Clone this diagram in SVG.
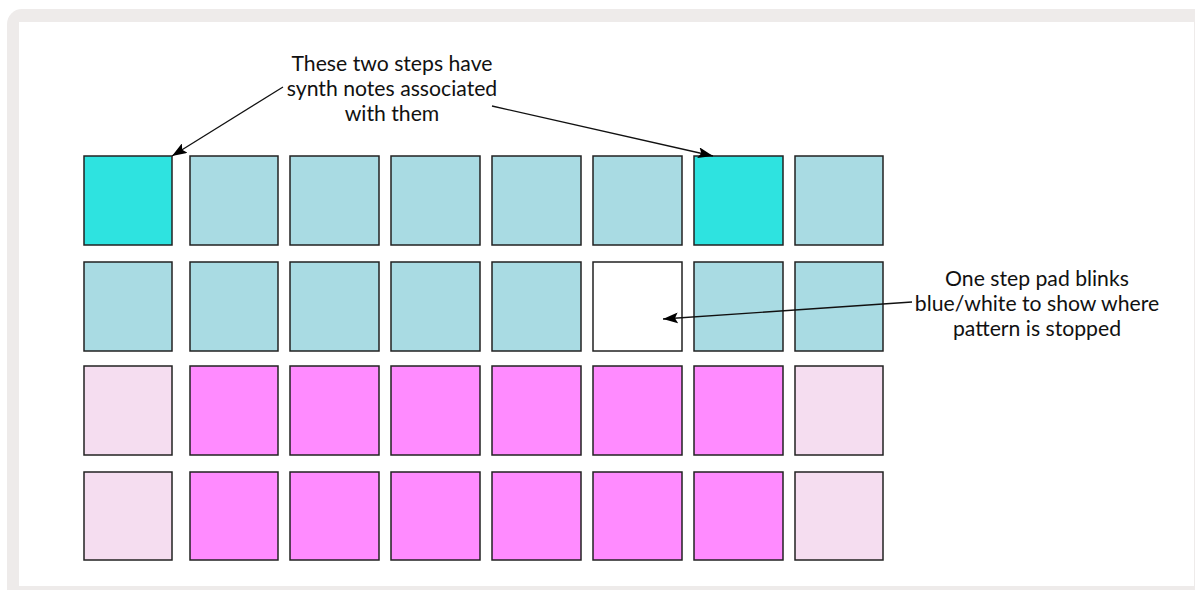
<svg xmlns="http://www.w3.org/2000/svg" width="1195" height="590" viewBox="0 0 1195 590">
<style>
.pad{stroke:#222;stroke-width:1.5}
.hot{fill:#2EE3E0}
.blue{fill:#A9DBE3}
.white{fill:#FFFFFF}
.pink{fill:#FF8BFF}
.lpink{fill:#F5DDF0}
.lbl{font-family:Lato,"Noto Sans",sans-serif;font-size:21.2px;fill:#111;text-anchor:middle}
.conn{stroke:#111;stroke-width:1.3;fill:none}
</style>
<defs>
<marker id="ah" viewBox="0 0 15 11" refX="15" refY="5.5" markerWidth="15" markerHeight="11" markerUnits="userSpaceOnUse" orient="auto">
<path d="M0,0 L15,5.5 L0,11 L3,5.5 Z" fill="#000"/>
</marker>
</defs>
<rect x="7" y="9" width="1210" height="600" rx="15" fill="#EEEBEA"/>
<rect x="19" y="22" width="1175" height="564" fill="#FFFFFF"/>
<g id="row1">
<rect id="p1-1" class="pad hot" x="84" y="156" width="88" height="89"/>
<rect id="p1-2" class="pad blue" x="190" y="156" width="88" height="89"/>
<rect id="p1-3" class="pad blue" x="290" y="156" width="89" height="89"/>
<rect id="p1-4" class="pad blue" x="391" y="156" width="89" height="89"/>
<rect id="p1-5" class="pad blue" x="492" y="156" width="89" height="89"/>
<rect id="p1-6" class="pad blue" x="593" y="156" width="89" height="89"/>
<rect id="p1-7" class="pad hot" x="694" y="156" width="89" height="89"/>
<rect id="p1-8" class="pad blue" x="795" y="156" width="88" height="89"/>
</g>
<g id="row2">
<rect id="p2-1" class="pad blue" x="84" y="262" width="88" height="89"/>
<rect id="p2-2" class="pad blue" x="190" y="262" width="88" height="89"/>
<rect id="p2-3" class="pad blue" x="290" y="262" width="89" height="89"/>
<rect id="p2-4" class="pad blue" x="391" y="262" width="89" height="89"/>
<rect id="p2-5" class="pad blue" x="492" y="262" width="89" height="89"/>
<rect id="p2-6" class="pad white" x="593" y="262" width="89" height="89"/>
<rect id="p2-7" class="pad blue" x="694" y="262" width="89" height="89"/>
<rect id="p2-8" class="pad blue" x="795" y="262" width="88" height="89"/>
</g>
<g id="row3">
<rect id="p3-1" class="pad lpink" x="84" y="366" width="88" height="89"/>
<rect id="p3-2" class="pad pink" x="190" y="366" width="88" height="89"/>
<rect id="p3-3" class="pad pink" x="290" y="366" width="89" height="89"/>
<rect id="p3-4" class="pad pink" x="391" y="366" width="89" height="89"/>
<rect id="p3-5" class="pad pink" x="492" y="366" width="89" height="89"/>
<rect id="p3-6" class="pad pink" x="593" y="366" width="89" height="89"/>
<rect id="p3-7" class="pad pink" x="694" y="366" width="89" height="89"/>
<rect id="p3-8" class="pad lpink" x="795" y="366" width="88" height="89"/>
</g>
<g id="row4">
<rect id="p4-1" class="pad lpink" x="84" y="472" width="88" height="88"/>
<rect id="p4-2" class="pad pink" x="190" y="472" width="88" height="88"/>
<rect id="p4-3" class="pad pink" x="290" y="472" width="89" height="88"/>
<rect id="p4-4" class="pad pink" x="391" y="472" width="89" height="88"/>
<rect id="p4-5" class="pad pink" x="492" y="472" width="89" height="88"/>
<rect id="p4-6" class="pad pink" x="593" y="472" width="89" height="88"/>
<rect id="p4-7" class="pad pink" x="694" y="472" width="89" height="88"/>
<rect id="p4-8" class="pad lpink" x="795" y="472" width="88" height="88"/>
</g>
<g id="label-synth">
<text class="lbl" x="392" y="71">These two steps have</text>
<text class="lbl" x="392" y="96">synth notes associated</text>
<text class="lbl" x="392" y="121">with them</text>
</g>
<g id="label-blink">
<text class="lbl" x="1037" y="286">One step pad blinks</text>
<text class="lbl" x="1037" y="311">blue/white to show where</text>
<text class="lbl" x="1037" y="336">pattern is stopped</text>
</g>
<g id="connectors">
<line class="conn" x1="283" y1="87" x2="172" y2="156" marker-end="url(#ah)"/>
<line class="conn" x1="492" y1="106" x2="713" y2="156" marker-end="url(#ah)"/>
<line class="conn" x1="912" y1="302" x2="663" y2="319" marker-end="url(#ah)"/>
</g>
</svg>
